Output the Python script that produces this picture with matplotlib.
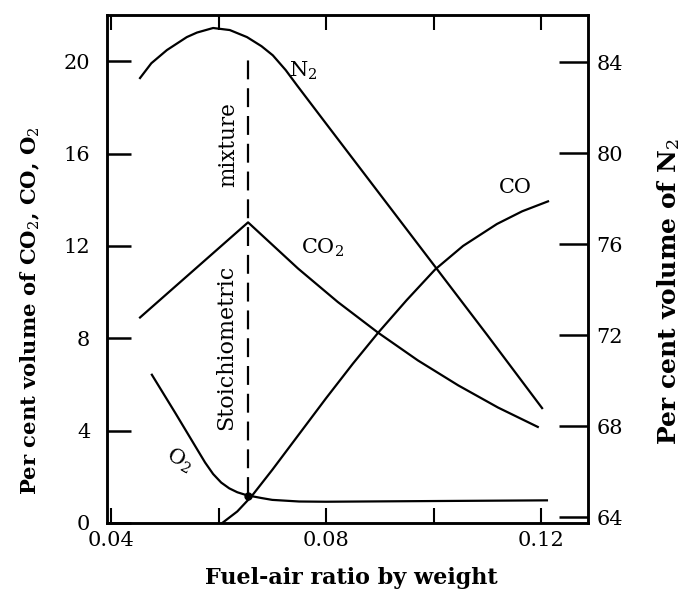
import matplotlib
matplotlib.use('Agg')
import matplotlib.pyplot as plt
import numpy as np

plt.rcParams['font.family'] = ['DejaVu Serif']
plt.rcParams['mathtext.fontset'] = 'dejavuserif'

# fuel-air ratio (x) and per cent volume
n2_x = [0.0454, 0.0475, 0.0504, 0.0541, 0.0560, 0.0590, 0.0621, 0.0653,
        0.0680, 0.0701, 0.0725, 0.0746, 0.0800, 0.0900, 0.1000, 0.1100,
        0.1202]
n2_y = [83.30, 83.95, 84.53, 85.10, 85.30, 85.50, 85.41, 85.10,
        84.70, 84.30, 83.65, 82.98, 81.30, 78.20, 75.10, 72.00,
        68.79]

co2_x = [0.0454, 0.0655, 0.0748, 0.0822, 0.0897, 0.0971, 0.1046, 0.1120,
         0.1194]
co2_y = [8.90, 13.02, 11.02, 9.57, 8.24, 7.04, 5.96, 5.00, 4.16]

co_x = [0.0607, 0.0635, 0.0662, 0.0700, 0.0750, 0.0800, 0.0850, 0.0897,
        0.0950, 0.1003, 0.1055, 0.1118, 0.1165, 0.1213]
co_y = [0.0, 0.50, 1.17, 2.30, 3.85, 5.40, 6.90, 8.24,
        9.65, 10.98, 12.00, 12.95, 13.50, 13.93]

o2_x = [0.0476, 0.0520, 0.0560, 0.0575, 0.0590, 0.0605, 0.0620, 0.0635,
        0.0650, 0.0662, 0.0680, 0.0700, 0.0750, 0.0800, 0.1000, 0.1211]
o2_y = [6.42, 4.75, 3.20, 2.62, 2.12, 1.75, 1.50, 1.33,
        1.22, 1.16, 1.08, 1.00, 0.93, 0.92, 0.95, 0.98]

stoich_x = 0.0655
stoich_y = [1.16, 20.4]

x_major = [0.04, 0.08, 0.12]
x_minor = [0.06, 0.10]
left_ticks = [0, 4, 8, 12, 16, 20]
right_ticks = [64, 68, 72, 76, 80, 84]

fig = plt.figure(figsize=(6.83, 5.92), dpi=100)
ax = fig.add_axes([0.1567, 0.1166, 0.7042, 0.858])
ax2 = ax.twinx()

lw = 1.6
ax.plot(co2_x, co2_y, color='black', lw=lw)
ax.plot(co_x, co_y, color='black', lw=lw)
ax.plot(o2_x, o2_y, color='black', lw=lw)
ax2.plot(n2_x, n2_y, color='black', lw=lw)

# stoichiometric line and the point where CO and O2 meet
ax.plot([stoich_x, stoich_x], stoich_y, color='black', lw=1.6, dashes=[8.5, 4])
ax.plot([stoich_x], [stoich_y[0]], 'o', color='black', ms=5)

ax.set_xlim(0.03926, 0.12874)
ax.set_ylim(0, 22.0)
ax2.set_ylim(63.74, 86.07)

ax.set_xticks(x_major)
ax.set_xticklabels(['0.04', '0.08', '0.12'])
ax.set_xticks(x_minor, minor=True)
ax.set_yticks(left_ticks)
ax2.set_yticks(right_ticks)

ax.tick_params(axis='x', which='both', direction='in', length=11, width=1.5,
               top=True, pad=6, labelsize=15)
ax.tick_params(axis='y', direction='in', length=17, width=1.8, pad=12,
               labelsize=15)
ax2.tick_params(axis='y', direction='in', length=21, width=1.8, pad=6,
                labelsize=15)

for a in (ax, ax2):
    for s in a.spines.values():
        s.set_linewidth(1.8)

# curve labels
ax2.text(0.0757, 83.6, 'N$_2$', fontsize=15, ha='center', va='center')
ax.text(0.0793, 11.93, 'CO$_2$', fontsize=15, ha='center', va='center')
ax.text(0.1152, 14.53, 'CO', fontsize=15, ha='center', va='center')
ax.text(0.0528, 2.73, 'O$_2$', fontsize=15, ha='center', va='center', rotation=-30)
ax.text(0.0614, 7.6, 'Stoichiometric', fontsize=16, rotation=90,
        ha='center', va='center')
ax.text(0.0618, 16.4, 'mixture', fontsize=15.5, rotation=90,
        ha='center', va='center')

fig.text(0.514, 0.024, 'Fuel-air ratio by weight', fontsize=16,
         fontweight='bold', ha='center', va='center')
fig.text(0.044, 0.475, 'Per cent volume of CO$_2$, CO, O$_2$', fontsize=15.2,
         fontweight='bold', rotation=90, ha='center', va='center')
fig.text(0.979, 0.507, 'Per cent volume of N$_2$', fontsize=18,
         fontweight='bold', rotation=90, ha='center', va='center')

fig.savefig('out.png', dpi=100)
